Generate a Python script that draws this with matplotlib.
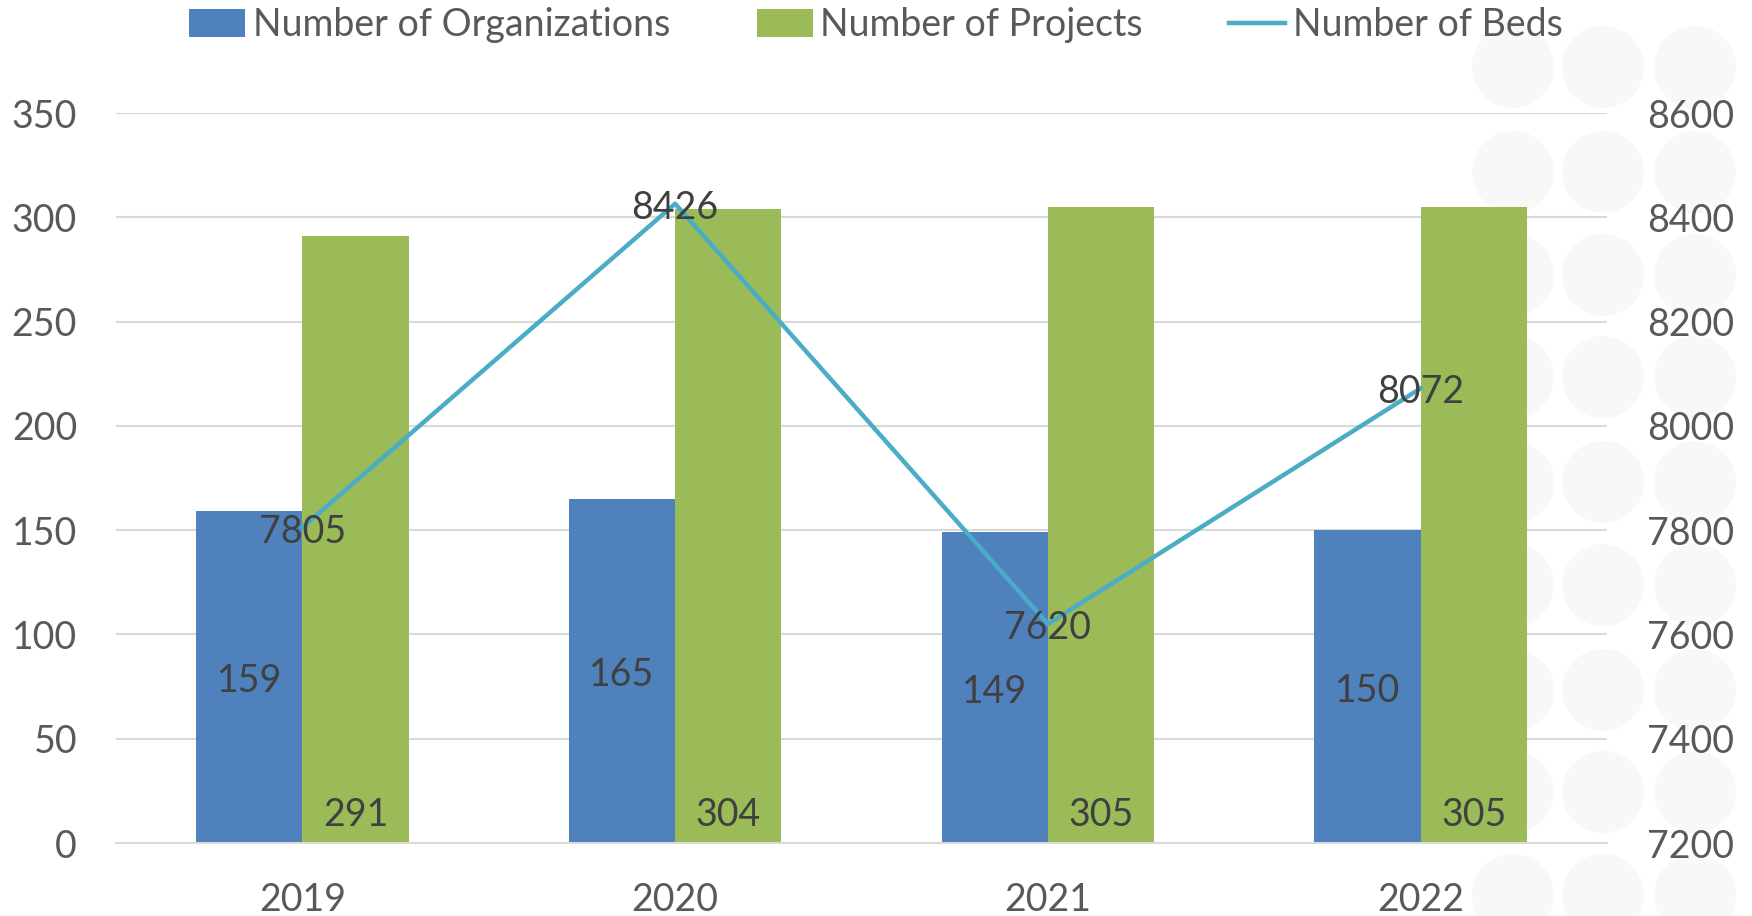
import matplotlib
matplotlib.use("Agg")
import matplotlib.pyplot as plt
from matplotlib.patches import Ellipse, Patch
from matplotlib.lines import Line2D
import numpy as np

years = ["2019", "2020", "2021", "2022"]
organizations = [159, 165, 149, 150]
projects = [291, 304, 305, 305]
beds = [7805, 8426, 7620, 8072]
left_ticks = [0, 50, 100, 150, 200, 250, 300, 350]
right_ticks = [7200, 7400, 7600, 7800, 8000, 8200, 8400, 8600]

FONT = ["Lato", "DejaVu Sans"]
plt.rcParams['font.family'] = FONT

W, H = 1752, 916
fig = plt.figure(figsize=(W / 100, H / 100), dpi=100)

# faint background circles (decorative) on a background axes
bg = fig.add_axes([0, 0, 1, 1], zorder=-5)
bg.set_xlim(0, W)
bg.set_ylim(H, 0)
bg.axis("off")
cx_list = [1513, 1603, 1695]
cy_list = [67, 172, 275, 377, 482, 585, 690, 792, 895]
for cx in cx_list:
    for cy in cy_list:
        bg.add_patch(Ellipse((cx, cy), 82, 82, facecolor="#f8f8f8", edgecolor="none"))

ax = fig.add_axes([116 / W, 1 - 843 / H, (1607 - 116) / W, (843 - 113) / H], zorder=1)
ax.patch.set_alpha(0)
ax2 = ax.twinx()
ax2.set_zorder(2)
ax2.patch.set_alpha(0)

x = np.arange(len(years))
bw = 0.285
blue = "#4F81BD"
green = "#9BBB59"
teal = "#4BACC6"
txt = "#404040"
tick_col = "#595959"
fs = 27

ax.bar(x - bw / 2, organizations, bw, color=blue, zorder=2)
ax.bar(x + bw / 2, projects, bw, color=green, zorder=2)
ax.set_ylim(0, 350)
ax.set_xlim(-0.5, 3.5)
ax.set_yticks(left_ticks)
ax.grid(axis="y", color="#d9d9d9", lw=1.5, zorder=0)
ax.set_axisbelow(True)
for s in ax.spines.values():
    s.set_visible(False)
ax.spines["bottom"].set_visible(True)
ax.spines["bottom"].set_color("#d9d9d9")
ax.spines["bottom"].set_linewidth(1.5)
ax.tick_params(axis="y", length=0, labelsize=fs, labelcolor=tick_col, pad=28)
ax.tick_params(axis="x", length=0, labelsize=fs, labelcolor=tick_col, pad=28)
ax.set_xticks(x)
ax.set_xticklabels(years)

for xi, v in zip(x, organizations):
    ax.annotate(str(v), (xi - bw / 2, v / 2), xytext=(0, -4), textcoords="offset pixels",
                ha="center", va="center", fontsize=fs, color=txt, zorder=5)
for xi, v in zip(x, projects):
    ax.annotate(str(v), (xi + bw / 2, 0), xytext=(0, 10), textcoords="offset pixels",
                ha="center", va="bottom", fontsize=fs, color=txt, zorder=5)

ax2.plot(x, beds, color=teal, lw=3.2, zorder=3)
ax2.set_ylim(7200, 8600)
ax2.set_yticks(right_ticks)
for s in ax2.spines.values():
    s.set_visible(False)
ax2.tick_params(axis="y", length=0, labelsize=fs, labelcolor=tick_col, pad=29)
for xi, v in zip(x, beds):
    ax2.annotate(str(v), (xi, v), xytext=(0, -4), textcoords="offset pixels",
                 ha="center", va="center", fontsize=fs, color=txt, zorder=6)

handles = [Patch(facecolor=blue), Patch(facecolor=green), Line2D([0], [0], color=teal, lw=3.2)]
labels = ["Number of Organizations", "Number of Projects", "Number of Beds"]
fig.legend(handles, labels, loc="center", bbox_to_anchor=(0.5, 1 - 25 / H), ncol=3,
           frameon=False, fontsize=fs, labelcolor=tick_col, handlelength=1.5,
           handleheight=0.75, handletextpad=0.2, columnspacing=2.3)

fig.savefig("out.png", dpi=100)
